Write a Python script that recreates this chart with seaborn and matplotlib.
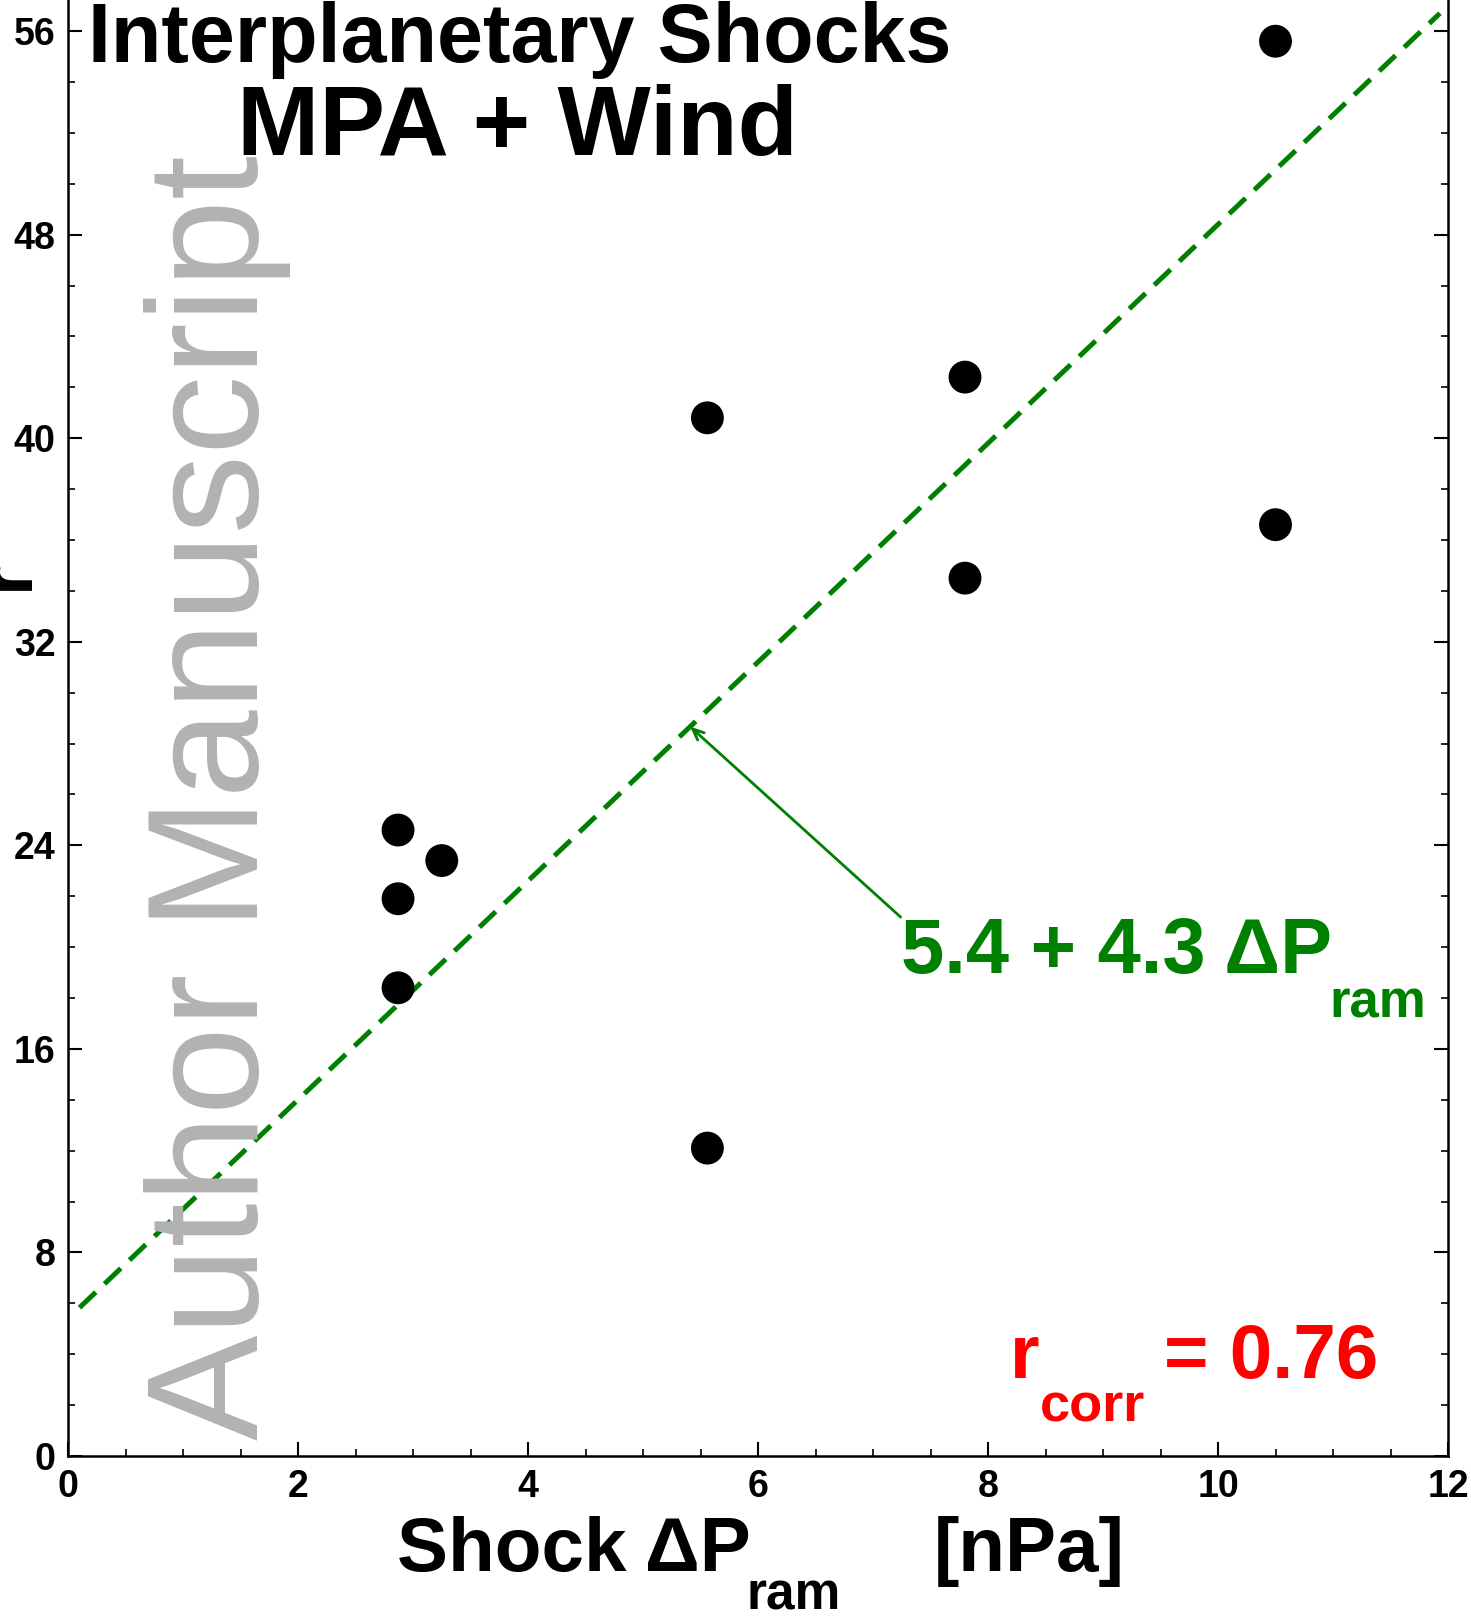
import matplotlib
matplotlib.use("Agg")
import matplotlib.pyplot as plt
import seaborn as sns
import numpy as np
import pandas as pd
from matplotlib.ticker import MultipleLocator

# ---- data ----
dp_ram = [10.5, 7.8, 5.56, 10.5, 7.8, 2.87, 3.25, 2.87, 2.87, 5.56]
r_val = [55.6, 42.4, 40.8, 36.6, 34.5, 24.6, 23.4, 21.9, 18.4, 12.1]
fit_intercept = 5.4
fit_slope = 4.3
fit_x = [0.1, 11.93]
x_ticks = [0, 2, 4, 6, 8, 10, 12]
y_ticks = [0, 8, 16, 24, 32, 40, 48, 56]
r_corr = 0.76

sns.set_style("ticks")
plt.rcParams["font.family"] = ["Liberation Sans", "DejaVu Sans"]
plt.rcParams.update({"text.color": "black", "axes.labelcolor": "black",
                     "xtick.color": "black", "ytick.color": "black",
                     "axes.edgecolor": "black"})

W, H = 1471, 1619
fig = plt.figure(figsize=(W / 100, H / 100), dpi=100)
ax = fig.add_axes([68 / W, 1 - 1456 / H, (1448 - 68) / W, 1456 / H])

GREEN = "#008000"

# watermark
fig.text(258 / W, 1 - 1440 / H, "Author Manuscript", rotation=90,
         rotation_mode="anchor", ha="left", va="baseline",
         fontsize=114, color="#b2b2b2", zorder=0)

df = pd.DataFrame({"dp": dp_ram, "r": r_val})
fit_df = pd.DataFrame({"x": fit_x,
                       "y": [fit_intercept + fit_slope * v for v in fit_x]})

sns.lineplot(data=fit_df, x="x", y="y", ax=ax, color=GREEN, lw=3.6,
             zorder=2)
ax.lines[-1].set_linestyle((0, (4.5, 2.4)))
sns.scatterplot(data=df, x="dp", y="r", ax=ax, color="black", s=560,
                edgecolor="none", zorder=3)

ax.set_xlim(0, 12)
ax.set_ylim(0, 57.22)
ax.set_xticks(x_ticks)
ax.set_yticks(y_ticks)
ax.xaxis.set_minor_locator(MultipleLocator(0.5))
ax.yaxis.set_minor_locator(MultipleLocator(2))
ax.tick_params(axis="both", which="major", direction="in", length=10,
               width=1.5, right=True, top=False, labelsize=27,
               colors="black")
ax.tick_params(axis="both", which="minor", direction="in", length=5,
               width=1.2, right=True, top=False, colors="black")
ax.tick_params(axis="y", pad=9)
ax.tick_params(axis="x", pad=9)
for lab in ax.get_xticklabels() + ax.get_yticklabels():
    lab.set_fontweight("bold")
ax.spines["top"].set_visible(False)
for s in ["left", "right", "bottom"]:
    ax.spines[s].set_linewidth(1.8)
    ax.spines[s].set_color("black")
ax.set_xlabel("")
ax.set_ylabel("")

# arrow to fit line
x_head = 5.41
ax.annotate("", xy=(x_head, fit_intercept + fit_slope * x_head),
            xytext=(7.24, 21.18),
            arrowprops=dict(arrowstyle="->,head_length=0.8,head_width=0.35",
                            color=GREEN, lw=2.0, shrinkA=0, shrinkB=0),
            zorder=4)

# titles
fig.text(88 / W, 1 - 62 / H, "Interplanetary Shocks", fontsize=59.5,
         fontweight="bold", ha="left", va="baseline")
fig.text(237 / W, 1 - 155 / H, "MPA + Wind", fontsize=71,
         fontweight="bold", ha="left", va="baseline")

# fit label
fig.text(901 / W, 1 - 973 / H, f"{fit_intercept} + {fit_slope} ΔP",
         fontsize=56, fontweight="bold", color=GREEN, ha="left",
         va="baseline")
fig.text(1329 / W, 1 - 1017 / H, "ram", fontsize=38, fontweight="bold",
         color=GREEN, ha="left", va="baseline")

# correlation label
fig.text(1010 / W, 1 - 1378 / H, "r", fontsize=55, fontweight="bold",
         color="red", ha="left", va="baseline")
fig.text(1040 / W, 1 - 1422 / H, "corr", fontsize=39, fontweight="bold",
         color="red", ha="left", va="baseline")
fig.text(1164 / W, 1 - 1378 / H, f"= {r_corr}", fontsize=55,
         fontweight="bold", color="red", ha="left", va="baseline")

# x axis label
fig.text(397 / W, 1 - 1571 / H, "Shock ΔP", fontsize=55, fontweight="bold",
         ha="left", va="baseline")
fig.text(747 / W, 1 - 1609 / H, "ram", fontsize=37, fontweight="bold",
         ha="left", va="baseline")
fig.text(934 / W, 1 - 1571 / H, "[nPa]", fontsize=55, fontweight="bold",
         ha="left", va="baseline")

# y axis label (partly cut off at the left edge, as in the reference)
fig.text(28 / W, 1 - 590 / H, "r", rotation=90, rotation_mode="anchor",
         ha="left", va="baseline", fontsize=55, fontweight="bold")

fig.savefig("out.png", dpi=100)
